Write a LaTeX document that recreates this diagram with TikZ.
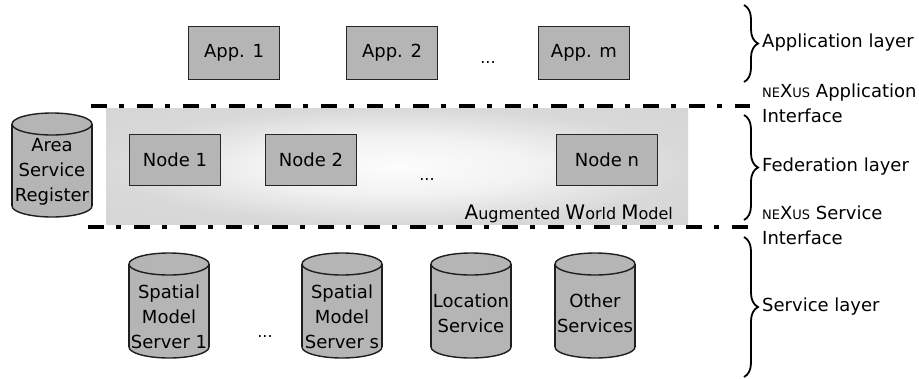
\documentclass[tikz,border=0pt]{standalone}
\usepackage{fontspec}
\setmainfont{DejaVu Sans}
\usetikzlibrary{decorations.pathreplacing}
\pgfdeclareradialshading{awmshade}{\pgfpoint{0bp}{0bp}}{color(0bp)=(gray!2); color(12bp)=(gray!10); color(25bp)=(gray!30); color(50bp)=(gray!36)}
\tikzset{
  boxnode/.style={draw=black!85, line width=1.8pt, fill=gray!58, minimum width=91pt, minimum height=53pt, inner sep=0pt, font=\fontsize{18}{22}\selectfont},
  cylfill/.style={fill=gray!58},
  cylline/.style={draw=black!88, line width=1.4pt},
  cyltext/.style={align=center, inner sep=0pt, font=\fontsize{18}{25}\selectfont},
  dots/.style={inner sep=0pt, font=\fontsize{16}{18}\selectfont},
  layerlabel/.style={anchor=west, inner sep=0pt, align=left, font=\fontsize{18}{25}\selectfont},
  ifaceline/.style={line width=4pt, dash pattern=on 16pt off 12pt on 5pt off 13pt},
  layerbrace/.style={decorate, decoration={brace, amplitude=14pt, aspect=0.5}, line width=1.8pt},
}
\newcommand\dbcyl[6]{% name, cx, top, bottom, textcenter y, text
  \filldraw[cylfill, cylline] (#2,#4-11) ellipse[x radius=40, y radius=11];
  \fill[cylfill] (#2-40,#3+11) rectangle (#2+40,#4-11);
  \draw[cylline] (#2-40,#3+11) -- (#2-40,#4-11);
  \draw[cylline] (#2+40,#3+11) -- (#2+40,#4-11);
  \filldraw[cylfill, cylline] (#2,#3+11) ellipse[x radius=40, y radius=11];
  \node[cyltext] (#1) at (#2,#5) {#6};
}
\newcommand\nexus[1][13]{{\fontsize{#1}{#1}\selectfont NE}X{\fontsize{#1}{#1}\selectfont US}}
\begin{document}
\begin{tikzpicture}[x=1pt, y=-1pt]
\useasboundingbox (0,0) rectangle (919,378);
% federation background
\shade[shading=awmshade] (106,108) rectangle (688,224);
% interface lines
\coordinate (apiL) at (91,106);
\coordinate (apiR) at (750,106);
\coordinate (spiL) at (88,227);
\coordinate (spiR) at (753,227);
\draw[ifaceline] (apiL) -- (apiR);
\draw[ifaceline] (spiL) -- (spiR);
% application layer
\node[boxnode] (app1) at (234,53) {App. 1};
\node[boxnode] (app2) at (392,53) {App. 2};
\node[dots] (appdots) at (488,63) {...};
\node[boxnode] (appm) at (584,53) {App. m};
% federation layer
\node[boxnode, minimum height=51pt] (node1) at (175,160) {Node 1};
\node[boxnode, minimum height=51pt] (node2) at (311,160) {Node 2};
\node[dots] (nodedots) at (427,180) {...};
\node[boxnode, minimum height=51pt, minimum width=101pt] (noden) at (607,160) {Node n};
\node[inner sep=0pt, anchor=base east] (awm) at (673,219) {{\fontsize{20}{20}\selectfont A}{\fontsize{16}{16}\selectfont ugmented }{\fontsize{20}{20}\selectfont W}{\fontsize{16}{16}\selectfont orld }{\fontsize{20}{20}\selectfont M}{\fontsize{16}{16}\selectfont odel}};
\dbcyl{asr}{52}{113}{217}{172}{Area\\Service\\Register}
% service layer
\dbcyl{sms1}{169}{253}{358}{317}{Spatial\\Model\\Server 1}
\node[dots] (srvdots) at (265,337) {...};
\dbcyl{smss}{342}{253}{358}{317}{Spatial\\Model\\Server s}
\dbcyl{locs}{471}{253}{358}{313}{Location\\Service}
\dbcyl{other}{595}{253}{358}{313}{Other\\Services}
% braces and labels
\coordinate (b1t) at (744,5);
\coordinate (b1b) at (744,82);
\coordinate (b2t) at (744,115);
\coordinate (b2b) at (744,220);
\coordinate (b3t) at (744,237);
\coordinate (b3b) at (744,377);
\draw[layerbrace] (b1t) -- (b1b);
\draw[layerbrace] (b2t) -- (b2b);
\draw[layerbrace] (b3t) -- (b3b);
\node[layerlabel] (lapp) at (762,43) {Application layer};
\node[layerlabel] (lapi) at (762,103) {\nexus\ Application\\Interface};
\node[layerlabel] (lfed) at (762,167) {Federation layer};
\node[layerlabel] (lspi) at (762,225) {\nexus\ Service\\Interface};
\node[layerlabel] (lsrv) at (762,307) {Service layer};
\end{tikzpicture}
\end{document}
